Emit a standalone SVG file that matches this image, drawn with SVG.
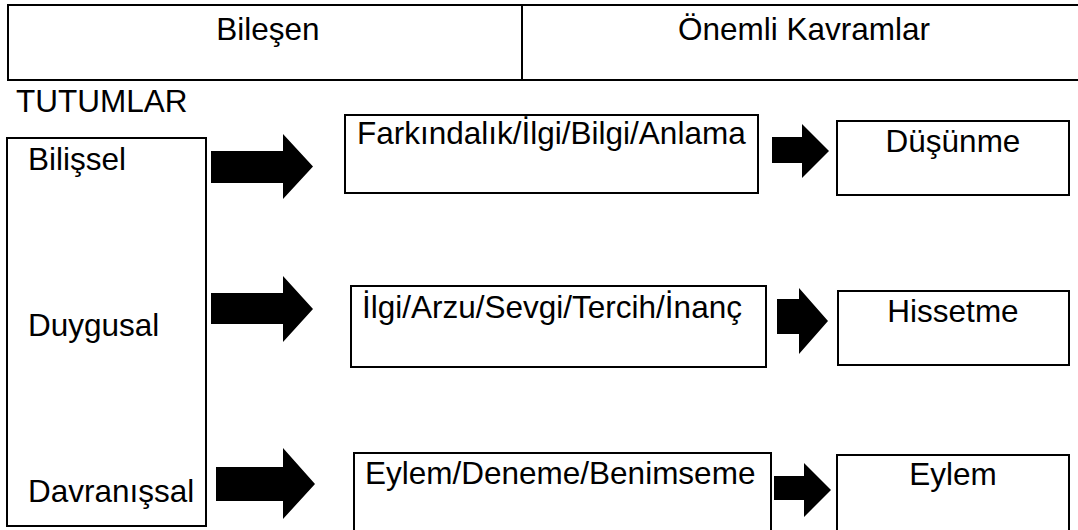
<svg xmlns="http://www.w3.org/2000/svg" width="1078" height="530" viewBox="0 0 1078 530">
<style>
.box{fill:#fff;stroke:#000;stroke-width:2}
.t{font-family:"Liberation Sans",Arial,sans-serif;font-size:31.5px;fill:#000}
.c{text-anchor:middle}
.arr{fill:#000;stroke:none}
</style>
<rect width="1078" height="530" fill="#fff"/>
<g id="header">
<rect class="box" x="8" y="5" width="1090" height="75"/>
<line x1="522" y1="5" x2="522" y2="80" stroke="#000" stroke-width="2"/>
<text class="t c" x="268" y="40">Bileşen</text>
<text class="t c" x="804" y="40">Önemli Kavramlar</text>
</g>
<g id="title"><text class="t" x="16" y="112">TUTUMLAR</text></g>
<g id="components">
<rect class="box" x="7" y="138" width="199" height="388"/>
<text class="t" x="28" y="170">Bilişsel</text>
<text class="t" x="28" y="336">Duygusal</text>
<text class="t" x="28" y="502">Davranışsal</text>
</g>
<g id="concepts1">
<rect class="box" x="345" y="115" width="413" height="78"/>
<text class="t" x="357" y="144">Farkındalık/İlgi/Bilgi/Anlama</text>
</g>
<g id="concepts2">
<rect class="box" x="351" y="286" width="415" height="81"/>
<text class="t" x="362" y="318">İlgi/Arzu/Sevgi/Tercih/İnanç</text>
</g>
<g id="concepts3">
<rect class="box" x="354" y="453" width="417" height="90"/>
<text class="t" x="365" y="484">Eylem/Deneme/Benimseme</text>
</g>
<g id="result1">
<rect class="box" x="837" y="121" width="232" height="74"/>
<text class="t c" x="953" y="152">Düşünme</text>
</g>
<g id="result2">
<rect class="box" x="838" y="291" width="231" height="74"/>
<text class="t c" x="953" y="322">Hissetme</text>
</g>
<g id="result3">
<rect class="box" x="837" y="455" width="232" height="90"/>
<text class="t c" x="953" y="485">Eylem</text>
</g>
<g id="connectors">
<polygon class="arr" points="211,151 283,151 283,134 313,166.5 283,199 283,183 211,183"/>
<polygon class="arr" points="211,293 283,293 283,276 313,309 283,342 283,324 211,324"/>
<polygon class="arr" points="216,467 283,467 283,448 315,484 283,519 283,501 216,501"/>
<polygon class="arr" points="772,137 802,137 802,124 829,151 802,178 802,163 772,163"/>
<polygon class="arr" points="777,299 799,299 799,288 828,321 799,354 799,334 777,334"/>
<polygon class="arr" points="774,476 804,476 804,463 831,490 804,517 804,500 774,500"/>
</g>
</svg>
